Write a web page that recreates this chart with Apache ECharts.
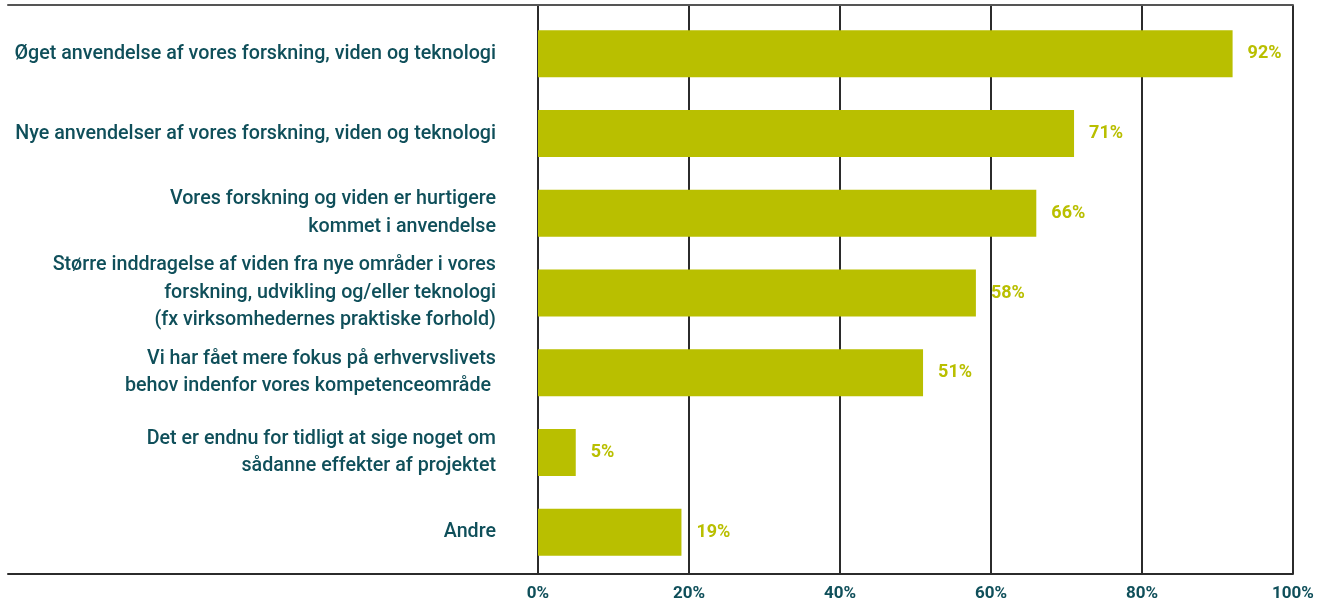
<!DOCTYPE html>
<html>
<head>
<meta charset="utf-8">
<script src="https://cdn.jsdelivr.net/npm/echarts@6/dist/echarts.min.js"></script>
<style>
  html, body { margin: 0; padding: 0; background: #ffffff; }
  #chart { width: 1328px; height: 602px; }
</style>
</head>
<body>
<div id="chart"></div>
<script>
// Survey answers: effects of the project on the institutions (share of respondents)
const categories = [
  'Øget anvendelse af vores forskning, viden og teknologi',
  'Nye anvendelser af vores forskning, viden og teknologi',
  'Vores forskning og viden er hurtigere\nkommet i anvendelse',
  'Større inddragelse af viden fra nye områder i vores\nforskning, udvikling og/eller teknologi\n(fx virksomhedernes praktiske forhold)',
  'Vi har fået mere fokus på erhvervslivets\nbehov indenfor vores kompetenceområde ',
  'Det er endnu for tidligt at sige noget om\nsådanne effekter af projektet',
  'Andre'
];
const values = [92, 71, 66, 58, 51, 5, 19];
const tickValues = [0, 20, 40, 60, 80, 100];

const TEAL = '#0f4f5a';
const OLIVE = '#b9bf00';
const LINE = '#2b2b2b';
const FONT = 'Roboto, "Liberation Sans", sans-serif';

const chart = echarts.init(document.getElementById('chart'));

chart.setOption({
  animation: false,
  backgroundColor: '#ffffff',
  grid: [
    // outer frame: top and bottom rules running under the labels
    { left: 8, right: 35, top: 5, bottom: 28, containLabel: false },
    // percentage scale with vertical rules
    { left: 538, right: 35, top: 5, bottom: 28, containLabel: false },
    // bars
    { left: 538, right: 35, top: 14, bottom: 30, containLabel: false }
  ],
  xAxis: [
    {
      gridIndex: 0, type: 'value', min: 0, max: 1, position: 'bottom',
      axisLine: { show: true, onZero: false, lineStyle: { color: LINE, width: 2 } },
      axisTick: { show: false }, axisLabel: { show: false }, splitLine: { show: false }
    },
    {
      gridIndex: 0, type: 'value', min: 0, max: 1, position: 'top',
      axisLine: { show: true, onZero: false, lineStyle: { color: '#555555', width: 2 } },
      axisTick: { show: false }, axisLabel: { show: false }, splitLine: { show: false }
    },
    {
      gridIndex: 1, type: 'value', min: tickValues[0], max: tickValues[tickValues.length - 1],
      interval: tickValues[1] - tickValues[0],
      axisLine: { show: false }, axisTick: { show: false },
      splitLine: { show: true, lineStyle: { color: LINE, width: 2 } },
      axisLabel: {
        show: true, margin: 11, color: TEAL, fontFamily: FONT, fontWeight: 'bold', fontSize: 17,
        formatter: v => v + '%'
      }
    },
    {
      gridIndex: 2, type: 'value', min: tickValues[0], max: tickValues[tickValues.length - 1],
      show: false
    }
  ],
  yAxis: [
    {
      gridIndex: 0, type: 'value', min: 0, max: 1, position: 'right',
      axisLine: { show: false }, axisTick: { show: false }, axisLabel: { show: false },
      splitLine: { show: false }
    },
    {
      gridIndex: 1, type: 'value', min: 0, max: 1, show: false
    },
    {
      gridIndex: 2, type: 'category', data: categories, inverse: true,
      axisLine: { show: false }, axisTick: { show: false }, splitLine: { show: false },
      axisLabel: {
        show: true, margin: 42, color: TEAL, fontFamily: FONT, fontWeight: 500,
        fontSize: 19.7, lineHeight: 27.5, align: 'right', padding: [6, 0, 0, 0]
      }
    }
  ],
  series: [{
    type: 'bar',
    xAxisIndex: 3,
    yAxisIndex: 2,
    data: values,
    barWidth: 47,
    itemStyle: { color: OLIVE },
    label: {
      show: true, position: 'right', distance: 15,
      color: OLIVE, fontFamily: FONT, fontWeight: 'bold', fontSize: 18,
      formatter: p => p.value + '%'
    }
  }]
});
</script>
</body>
</html>
